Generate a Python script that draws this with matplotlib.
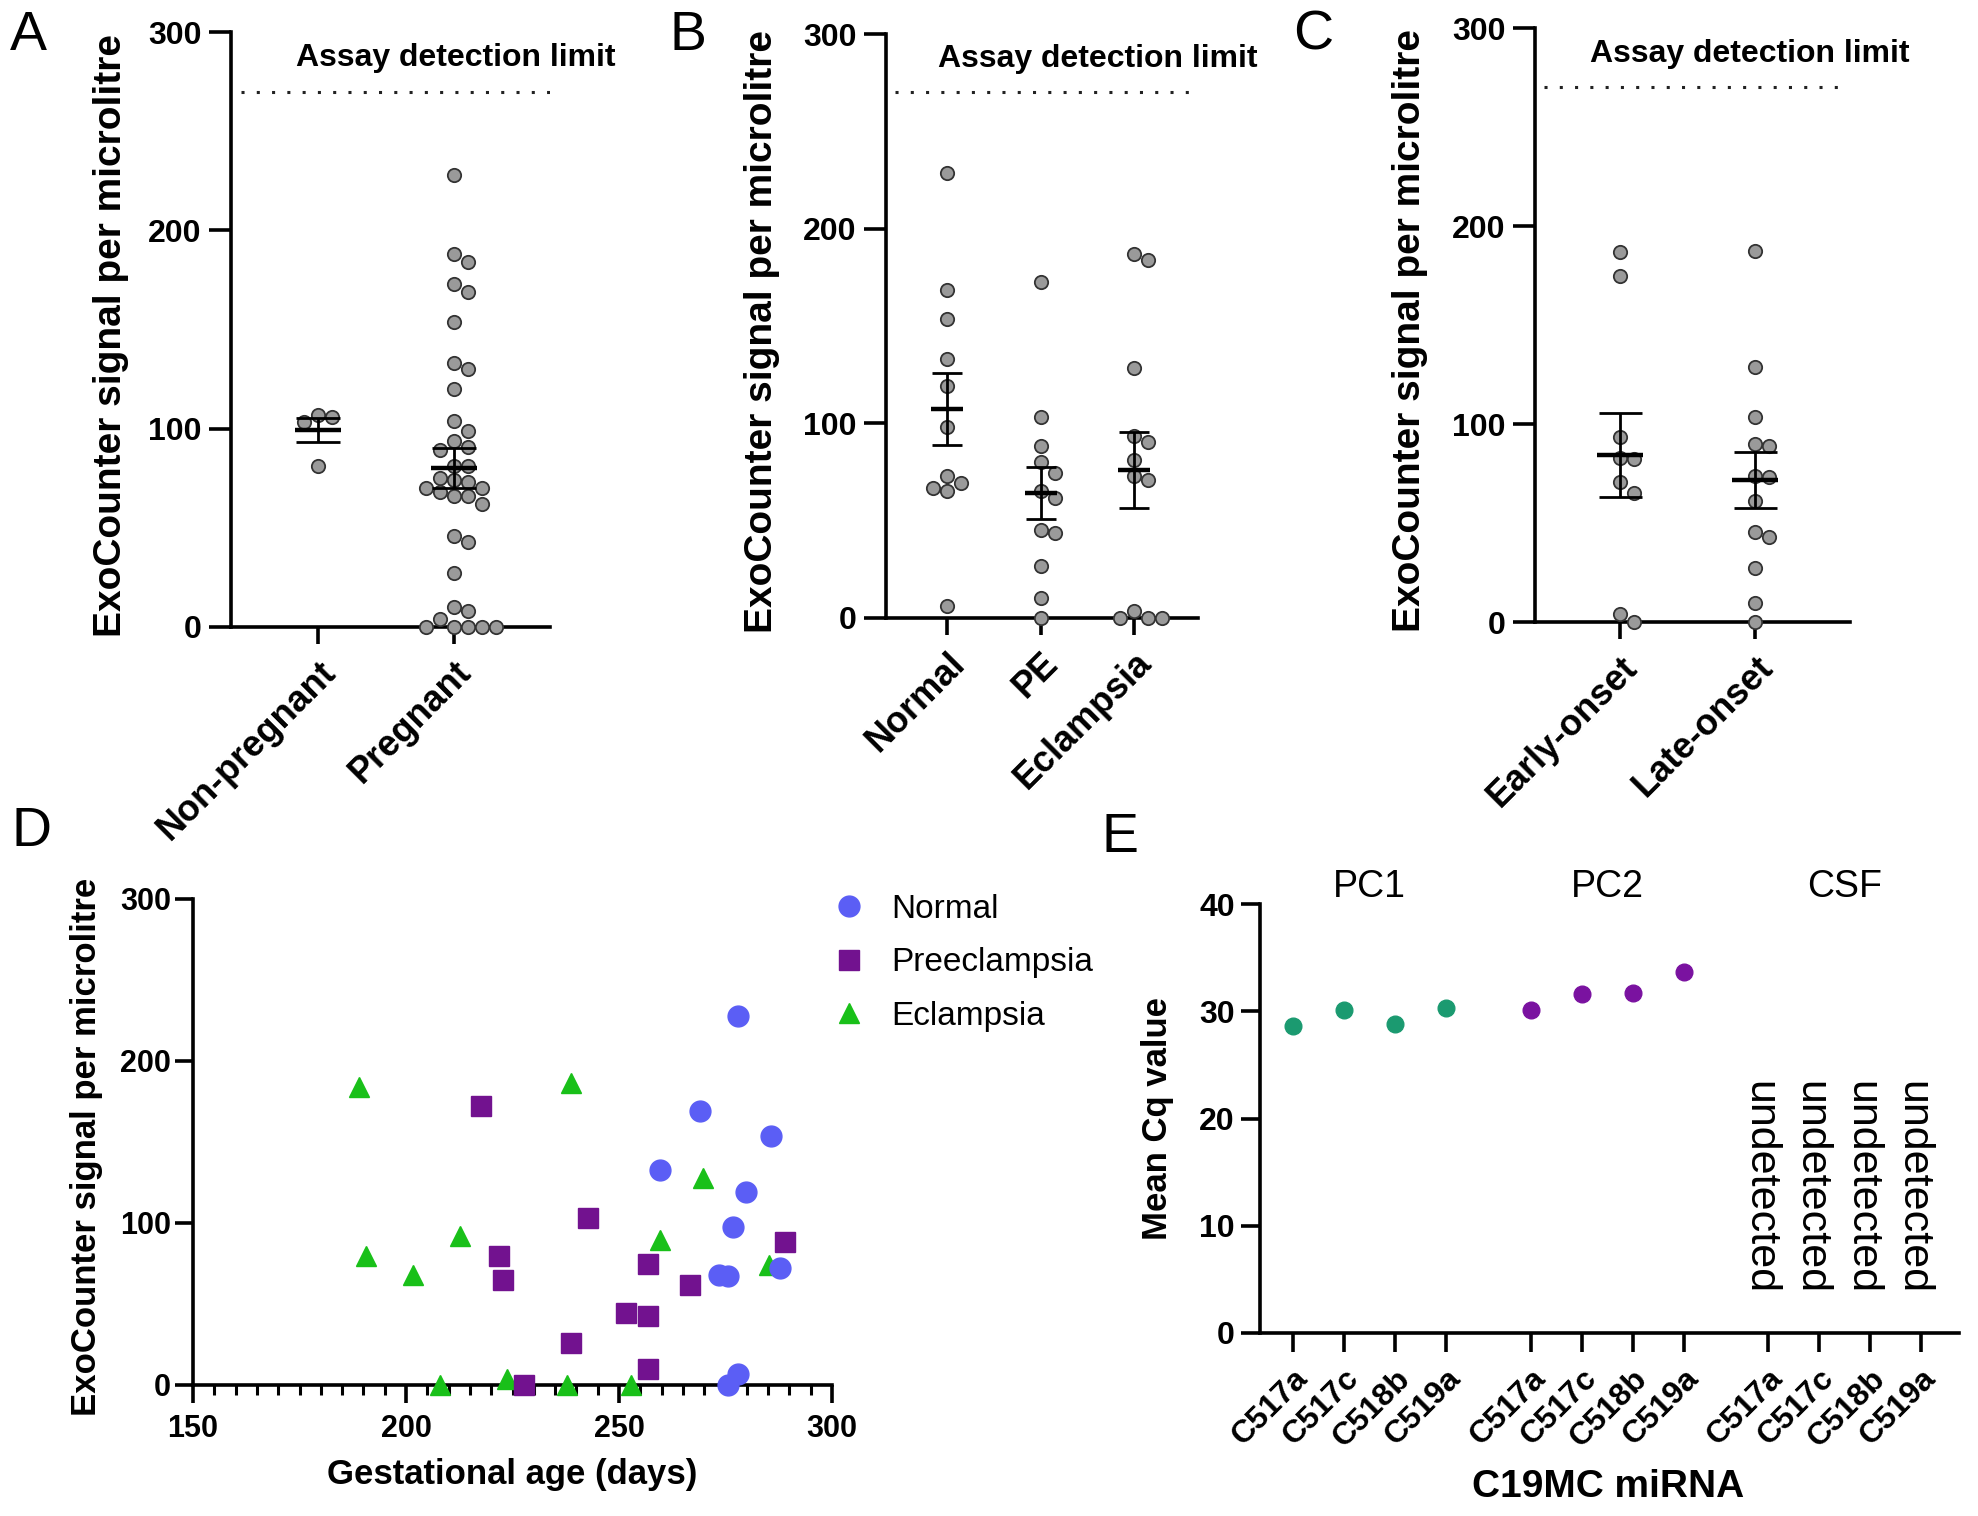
import numpy as np
import matplotlib
matplotlib.use("Agg")
import matplotlib.pyplot as plt
from matplotlib.ticker import MultipleLocator
from matplotlib.lines import Line2D

plt.rcParams['font.family'] = ['Liberation Sans', 'DejaVu Sans']
plt.rcParams['font.weight'] = 'bold'
plt.rcParams['axes.labelweight'] = 'bold'

# ---- panel A: ExoCounter signal, non-pregnant vs pregnant
a_groups = ['Non-pregnant', 'Pregnant']
a_nonpregnant = [107, 103.5, 106, 81]
a_pregnant = [228, 188, 184, 173, 169, 154, 133, 130, 120, 104, 99, 94, 91, 89,
              81, 81, 75, 74, 73, 70, 70, 68, 66, 66, 62, 46, 43, 27, 10, 8, 4,
              0, 0, 0, 0, 0]

# ---- panel B: by diagnosis
b_groups = ['Normal', 'PE', 'Eclampsia']
b_normal = [228.6, 168.5, 153.6, 132.8, 119, 98.2, 72.7, 69.5, 66.9, 65.1, 6.3]
b_pe = [172.4, 103.4, 88.3, 79.9, 74.7, 65.1, 61.7, 45.3, 43.5, 26.6, 10.4, 0]
b_eclampsia = [187.2, 184.1, 128.6, 93.5, 90.4, 81.3, 72.9, 70.9, 3.6, 0, 0, 0]

# ---- panel C: by onset
c_groups = ['Early-onset', 'Late-onset']
c_early = [186.7, 174.6, 93.6, 82.8, 82.1, 70.5, 64.9, 3.8, 0]
c_late = [187.2, 128.7, 103.3, 90, 88.7, 73.6, 73.0, 61, 45.6, 43.1, 27.2, 9.7, 0]

detection_limit = 270

# ---- panel D: signal vs gestational age
d_normal_age = [278.0, 268.9, 285.7, 259.7, 279.7, 276.8, 273.5, 275.5, 287.7, 278.0, 275.5]
d_normal_signal = [227.5, 168.9, 153.6, 132.5, 119.0, 97.8, 68.0, 67.0, 72.5, 6.8, 0]
d_pe_age = [217.7, 221.9, 222.7, 242.7, 238.7, 227.6, 251.6, 256.7, 256.7, 256.7, 266.7, 288.9]
d_pe_signal = [172.5, 79.5, 64.8, 102.9, 25.9, 0, 44.3, 42.9, 74.4, 9.6, 62.0, 88.5]
d_ecl_age = [189.0, 190.7, 201.7, 212.7, 238.7, 269.8, 259.7, 285.2, 208.0, 223.6, 237.7, 252.8]
d_ecl_signal = [183.8, 79.5, 68.2, 92.2, 186.6, 128.0, 89.4, 73.9, 0, 3.4, 0, 0]

# ---- panel E: C19MC miRNA Cq values
e_groups = ['PC1', 'PC2', 'CSF']
e_mirna = ['C517a', 'C517c', 'C518b', 'C519a']
e_pc1 = [28.6, 30.1, 28.8, 30.3]
e_pc2 = [30.1, 31.6, 31.7, 33.7]

W, H = 1978, 1516
fig = plt.figure(figsize=(W / 100, H / 100), dpi=100)


def px_axes(left, top, right, bottom):
    return fig.add_axes([left / W, 1 - bottom / H, (right - left) / W, (bottom - top) / H])


def style_axes(ax):
    for s in ['top', 'right']:
        ax.spines[s].set_visible(False)
    for s in ['left', 'bottom']:
        ax.spines[s].set_linewidth(2.6)


def swarm_offsets(ax, xc, values, diam_px):
    # simple beeswarm: place points from the top down in the nearest free column
    pts = ax.transData.transform(np.column_stack([np.full(len(values), xc), values]))
    ypx = pts[:, 1]
    order = np.argsort(-np.asarray(values, dtype=float), kind='stable')
    cand = [0]
    for j in range(1, 20):
        cand += [j, -j]
    placed = []
    offs = np.zeros(len(values))
    for idx in order:
        for c in cand:
            dx = c * diam_px * 1.05
            if all((dx - px) ** 2 + (ypx[idx] - py) ** 2 >= (diam_px * 0.97) ** 2
                   for px, py in placed):
                break
        placed.append((dx, ypx[idx]))
        offs[idx] = dx
    unit_px = ax.transData.transform((1, 0))[0] - ax.transData.transform((0, 0))[0]
    return offs / unit_px


def dot_panel(ax, groups, series, xlim, text_x):
    style_axes(ax)
    ax.set_xlim(*xlim)
    ax.set_ylim(0, 300)
    ms = 9.6
    diam = ms * fig.dpi / 72
    for i, vals in enumerate(series):
        vals = np.asarray(vals, dtype=float)
        x = i + swarm_offsets(ax, i, vals, diam)
        ax.plot(x, vals, 'o', ms=ms, mfc='#9a9a9a', mec='#333333', mew=1.3,
                clip_on=False, zorder=3)
        m = vals.mean()
        sem = vals.std(ddof=1) / np.sqrt(len(vals))
        ax.hlines(m, i - 0.17, i + 0.17, lw=3.2, color='black', zorder=4)
        ax.hlines([m - sem, m + sem], i - 0.16, i + 0.16, lw=2.0, color='black', zorder=4)
        ax.vlines(i, m - sem, m + sem, lw=2.0, color='black', zorder=4)
    ax.axhline(detection_limit, xmin=0.03, xmax=1, ls=(0, (1, 4)), lw=2.2, color='#222222')
    ax.text(text_x, 287, 'Assay detection limit', ha='center', va='center',
            fontsize=23, clip_on=False)
    ax.set_yticks([0, 100, 200, 300])
    ax.set_xticks(range(len(groups)))
    ax.set_xticklabels(groups, rotation=45, ha='right', rotation_mode='anchor')
    ax.tick_params(axis='y', length=16, width=2.6, labelsize=23, pad=5)
    ax.tick_params(axis='x', length=12, width=2.6, labelsize=26, pad=8)
    ax.set_ylabel('ExoCounter signal per microlitre', fontsize=28, va='center')


axA = px_axes(231, 32, 550, 627)
dot_panel(axA, a_groups, [a_nonpregnant, a_pregnant], (-0.64, 1.706), 1.01)
axA.yaxis.set_label_coords(-0.376, 0.49)

axB = px_axes(886, 34, 1198, 618)
dot_panel(axB, b_groups, [b_normal, b_pe, b_eclampsia], (-0.65, 2.68), 1.61)
axB.yaxis.set_label_coords(-0.397, 0.49)

axC = px_axes(1535, 28, 1850, 622)
dot_panel(axC, c_groups, [c_early, c_late], (-0.63, 1.70), 0.96)
axC.yaxis.set_label_coords(-0.397, 0.49)

# ---- D
axD = px_axes(193, 899, 832, 1385)
style_axes(axD)
axD.plot(d_ecl_age, d_ecl_signal, '^', ms=15, color='#19c019', clip_on=False, zorder=3)
axD.plot(d_pe_age, d_pe_signal, 's', ms=14, color='#72128f', clip_on=False, zorder=4)
axD.plot(d_normal_age, d_normal_signal, 'o', ms=15, color='#5b5ef5', clip_on=False, zorder=5)
axD.set_xlim(150, 300)
axD.set_ylim(0, 300)
axD.set_xticks([150, 200, 250, 300])
axD.set_yticks([0, 100, 200, 300])
axD.xaxis.set_minor_locator(MultipleLocator(5))
axD.tick_params(axis='y', length=13, width=2.6, labelsize=22, pad=3)
axD.tick_params(axis='x', which='major', length=13, width=2.6, labelsize=22, pad=8)
axD.tick_params(axis='x', which='minor', length=7, width=2.2)
axD.set_ylabel('ExoCounter signal per microlitre', fontsize=25, va='center')
axD.yaxis.set_label_coords(-0.167, 0.49)
axD.set_xlabel('Gestational age (days)', fontsize=25, va='center')
axD.xaxis.set_label_coords(0.5, -0.185)
handles = [
    Line2D([], [], ls='none', marker='o', ms=15, color='#5b5ef5'),
    Line2D([], [], ls='none', marker='s', ms=14, color='#72128f'),
    Line2D([], [], ls='none', marker='^', ms=15, color='#19c019'),
]
axD.legend(handles, ['Normal', 'Preeclampsia', 'Eclampsia'], loc='upper left',
           bbox_to_anchor=(0.975, 1.045), frameon=False, handlelength=1.0,
           handletextpad=0.75, labelspacing=0.68, borderpad=0,
           prop={'size': 24, 'weight': 'normal'})

# ---- E
axE = px_axes(1260, 904, 1959, 1333)
style_axes(axE)
gap = 1.66
n = len(e_mirna)
group_pos = [np.arange(n) + g * (n - 1 + gap) for g in range(len(e_groups))]
axE.plot(group_pos[0], e_pc1, 'o', ms=12, color='#1b9a70', zorder=3)
axE.plot(group_pos[1], e_pc2, 'o', ms=12, color='#7a12a0', zorder=3)
for x in group_pos[2]:
    axE.text(x - 0.18, 13.6, 'undetected', rotation=-90, ha='center', va='center',
             fontsize=31, fontweight='normal')
for g, name in enumerate(e_groups):
    axE.text(group_pos[g].mean(), 1.04, name, ha='center', va='center',
             fontsize=27, fontweight='normal',
             transform=axE.get_xaxis_transform())
axE.set_xlim(-0.65, 13.06)
axE.set_ylim(0, 40)
axE.set_yticks([0, 10, 20, 30, 40])
axE.set_xticks(np.concatenate(group_pos))
axE.set_xticklabels(e_mirna * len(e_groups), rotation=45, ha='right',
                    rotation_mode='anchor')
axE.tick_params(axis='y', length=14, width=2.6, labelsize=23, pad=4)
axE.tick_params(axis='x', length=14, width=2.6, labelsize=23, pad=8)
axE.set_ylabel('Mean Cq value', fontsize=25, va='center')
axE.yaxis.set_label_coords(-0.146, 0.5)
axE.set_xlabel('C19MC miRNA', fontsize=28, va='center')
axE.xaxis.set_label_coords(0.498, -0.36)

# panel letters
for letter, x, y in [('A', 10, 10), ('B', 670, 10), ('C', 1293, 10),
                     ('D', 12, 806), ('E', 1102, 812)]:
    fig.text(x / W, 1 - y / H, letter, ha='left', va='top', fontsize=40,
             fontweight='normal')

fig.savefig('out.png', dpi=100)
